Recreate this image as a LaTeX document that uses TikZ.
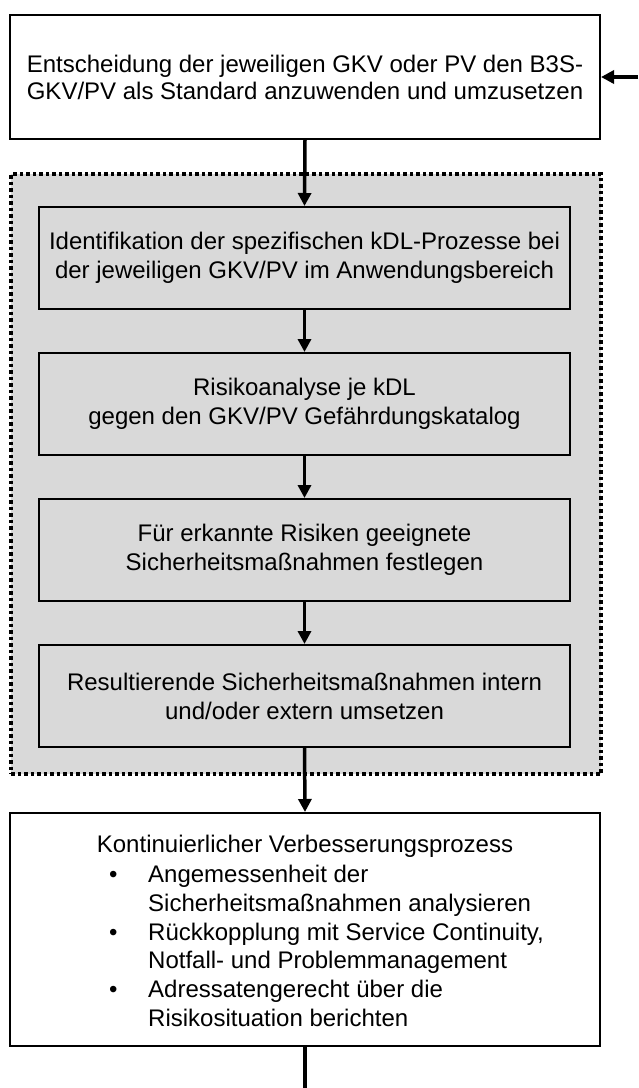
\documentclass[tikz,border=0pt]{standalone}
\usepackage{fontspec}
\setmainfont{Liberation Sans}
\usetikzlibrary{arrows.meta}
\definecolor{grpfill}{HTML}{D9D9D9}
\begin{document}
\begin{tikzpicture}[x=1pt,y=-1pt,
  txt/.style={font=\fontsize{24}{29}\selectfont},
  box/.style={draw=black,line width=2pt,align=center,inner sep=0pt,txt},
  inbox/.style={box,fill=grpfill,minimum width=531pt,minimum height=102pt},
  grp/.style={draw=black,fill=grpfill,line width=3.5pt,dash pattern=on 3.5pt off 3pt,inner sep=0pt,minimum width=590pt,minimum height=600pt},
  arr/.style={line width=3.5pt,-{Triangle[length=13pt,width=13pt]}},
  plain/.style={line width=3.5pt}]
\useasboundingbox (0,0) rectangle (638,1088);
\node[grp] (group) at (306,474) {};
\node[box,fill=white,minimum width=590pt,minimum height=124pt,font=\fontsize{24}{27}\selectfont] (top) at (305,77)
  {Entscheidung der jeweiligen GKV oder PV den B3S-\\GKV/PV als Standard anzuwenden und umzusetzen};
\node[inbox] (b1) at (304.5,258) {Identifikation der spezifischen kDL-Prozesse bei\\der jeweiligen GKV/PV im Anwendungsbereich};
\node[inbox] (b2) at (304.5,404) {Risikoanalyse je kDL\\gegen den GKV/PV Gefährdungskatalog};
\node[inbox] (b3) at (304.5,550) {Für erkannte Risiken geeignete\\Sicherheitsmaßnahmen festlegen};
\node[inbox] (b4) at (304.5,696) {Resultierende Sicherheitsmaßnahmen intern\\und/oder extern umsetzen};
\node[box,fill=white,minimum width=590pt,minimum height=233pt] (kvp) at (305,929.5) {};
\node[txt,inner sep=0pt,anchor=base] (kvptitle) at (305,852) {Kontinuierlicher Verbesserungsprozess};
\node[txt,inner sep=0pt,anchor=west,align=left,font=\fontsize{24}{28.8}\selectfont] (kvplist) at (109,946)
  {\makebox[39pt][l]{•}Angemessenheit der\\
   \hspace*{39pt}Sicherheitsmaßnahmen analysieren\\
   \makebox[39pt][l]{•}Rückkopplung mit Service Continuity,\\
   \hspace*{39pt}Notfall- und Problemmanagement\\
   \makebox[39pt][l]{•}Adressatengerecht über die\\
   \hspace*{39pt}Risikosituation berichten};
\coordinate (in) at (638,77);
\coordinate (out) at (305,1088);
\draw[arr] (top.south) -- (b1.north);
\draw[arr] (b1.south) -- (b2.north);
\draw[arr] (b2.south) -- (b3.north);
\draw[arr] (b3.south) -- (b4.north);
\draw[arr] (b4.south) -- (kvp.north);
\draw[arr] (in) -- (in -| top.east);
\draw[plain] (kvp.south) -- (out);
\end{tikzpicture}
\end{document}
